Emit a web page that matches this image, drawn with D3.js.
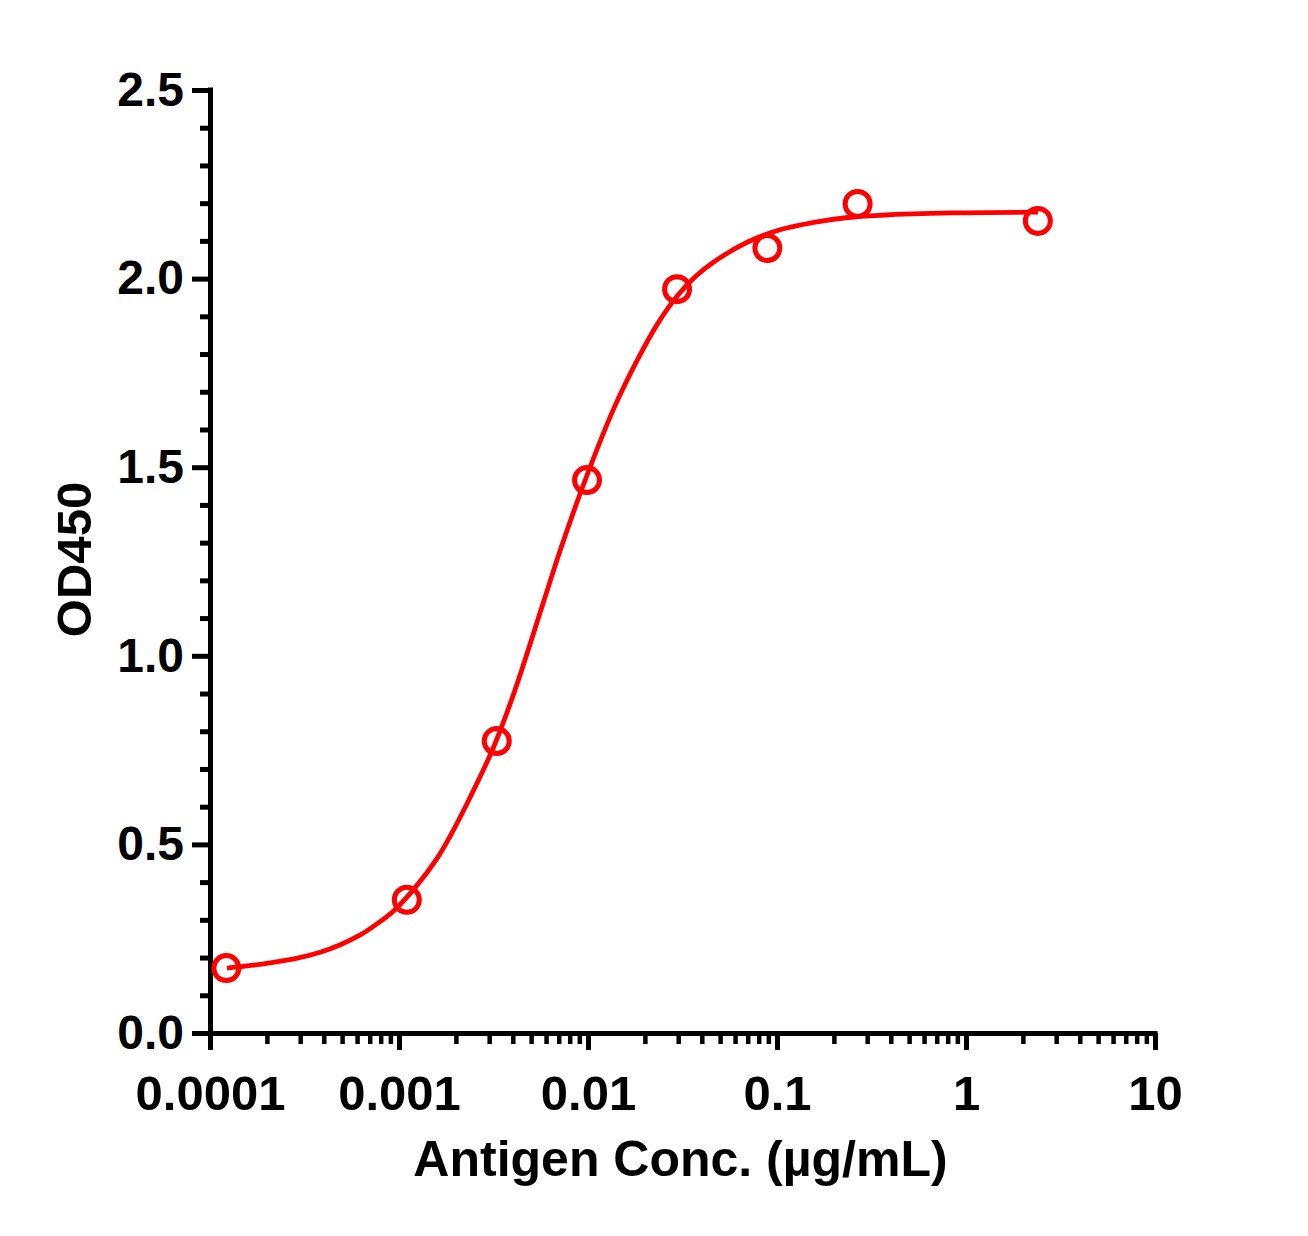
<!DOCTYPE html>
<html>
<head>
<meta charset="utf-8">
<script src="https://cdn.jsdelivr.net/npm/d3@7"></script>
<style>
  html, body { margin: 0; padding: 0; background: #fff; }
  svg { display: block; }
  text { font-family: "Liberation Sans", Arial, sans-serif; font-weight: bold; fill: #000; }
</style>
</head>
<body>
<svg id="chart" width="1308" height="1236"></svg>
<script>
// Measured data points (Antigen conc., µg/mL → OD450)
const pointConc = [0.000122, 0.0011, 0.00329, 0.00988, 0.0296, 0.0889, 0.267, 2.4];
const pointOD   = [0.172, 0.353, 0.774, 1.466, 1.972, 2.081, 2.198, 2.153];

// Fitted curve
const curveConc = [0.000123, 0.000165, 0.000208, 0.000282, 0.000383, 0.000489, 0.000624, 0.000748, 0.000933, 0.00122, 0.0016, 0.00187, 0.00238, 0.00316,
                   0.00403, 0.00581, 0.00713, 0.0097, 0.01365, 0.01828, 0.02333, 0.02979, 0.03715, 0.04624,
                   0.07, 0.1047, 0.1567, 0.2371, 0.3548, 0.834, 2.404];
const curveOD   = [0.172, 0.179, 0.186, 0.197, 0.214, 0.234, 0.260, 0.286, 0.323, 0.386, 0.465, 0.523, 0.625, 0.757,
                   0.897, 1.142, 1.28, 1.468, 1.654, 1.785, 1.880, 1.955, 2.006, 2.044,
                   2.097, 2.13, 2.149, 2.162, 2.168, 2.174, 2.176];

const xMajorTicks = [0.0001, 0.001, 0.01, 0.1, 1, 10];
const xTickLabels = ["0.0001", "0.001", "0.01", "0.1", "1", "10"];
const yMajorTicks = [0, 0.5, 1.0, 1.5, 2.0, 2.5];
const yTickLabels = ["0.0", "0.5", "1.0", "1.5", "2.0", "2.5"];
const xTitle = "Antigen Conc. (µg/mL)";
const yTitle = "OD450";

const svg = d3.select("#chart");
const mLeft = 210, mRight = 1155, mTop = 90, mBottom = 1033;
const red = "#ff0000";

const x = d3.scaleLog().domain([0.0001, 10]).range([mLeft, mRight]);
const y = d3.scaleLinear().domain([0, 2.5]).range([mBottom, mTop]);

// minor ticks
const xMinor = [];
for (let e = -4; e < 1; e++) for (let m = 2; m <= 9; m++) xMinor.push(m * Math.pow(10, e));
const yMinor = d3.range(0, 26).map(i => i / 10).filter(v => Math.abs(v * 2 - Math.round(v * 2)) > 1e-6);

const gx = svg.append("g").attr("transform", `translate(0,${mBottom})`);
gx.call(d3.axisBottom(x).tickValues(xMinor).tickSize(11).tickFormat(""))
  .call(g => g.select(".domain").remove())
  .call(g => g.selectAll("line").attr("stroke", "#000").attr("stroke-width", 4.5));
const gxMaj = svg.append("g").attr("transform", `translate(0,${mBottom})`);
gxMaj.call(d3.axisBottom(x).tickValues(xMajorTicks).tickSize(17).tickSizeOuter(0).tickPadding(25)
    .tickFormat((d, i) => xTickLabels[i]))
  .call(g => g.select(".domain").attr("stroke", "#000").attr("stroke-width", 5)
       .attr("d", `M${mLeft - 2.5},0.5H${mRight + 2.5}`))
  .call(g => g.selectAll("line").attr("stroke", "#000").attr("stroke-width", 5))
  .call(g => g.selectAll("text").style("font-size", "49px").attr("fill", "#000"));

const gy = svg.append("g").attr("transform", `translate(${mLeft},0)`);
gy.call(d3.axisLeft(y).tickValues(yMinor).tickSize(10).tickFormat(""))
  .call(g => g.select(".domain").remove())
  .call(g => g.selectAll("line").attr("stroke", "#000").attr("stroke-width", 5));
const gyMaj = svg.append("g").attr("transform", `translate(${mLeft},0)`);
gyMaj.call(d3.axisLeft(y).tickValues(yMajorTicks).tickSize(18).tickSizeOuter(0).tickPadding(8)
    .tickFormat((d, i) => yTickLabels[i]))
  .call(g => g.select(".domain").attr("stroke", "#000").attr("stroke-width", 5)
       .attr("d", `M0.5,${mTop - 2.5}V${mBottom + 2.5}`))
  .call(g => g.selectAll("line").attr("stroke", "#000").attr("stroke-width", 5))
  .call(g => g.selectAll("text").style("font-size", "48px").attr("fill", "#000"));

// curve
const curveData = curveConc.map((c, i) => [c, curveOD[i]]);
svg.append("path")
  .datum(curveData)
  .attr("fill", "none")
  .attr("stroke", red)
  .attr("stroke-width", 4.8)
  .attr("d", d3.line().x(d => x(d[0])).y(d => y(d[1])).curve(d3.curveCatmullRom.alpha(0.5)));

// points
const pts = pointConc.map((c, i) => [c, pointOD[i]]);
svg.append("g").selectAll("circle").data(pts).join("circle")
  .attr("cx", d => x(d[0]))
  .attr("cy", d => y(d[1]))
  .attr("r", 12.5)
  .attr("fill", "none")
  .attr("stroke", red)
  .attr("stroke-width", 5);

// titles
svg.append("text")
  .attr("x", (mLeft + mRight) / 2 - 2)
  .attr("y", 1176)
  .attr("text-anchor", "middle")
  .style("font-size", "50px")
  .text(xTitle);

svg.append("text")
  .attr("transform", `translate(91,${(mTop + mBottom) / 2 - 2}) rotate(-90)`)
  .attr("text-anchor", "middle")
  .style("font-size", "49px")
  .text(yTitle);
</script>
</body>
</html>
